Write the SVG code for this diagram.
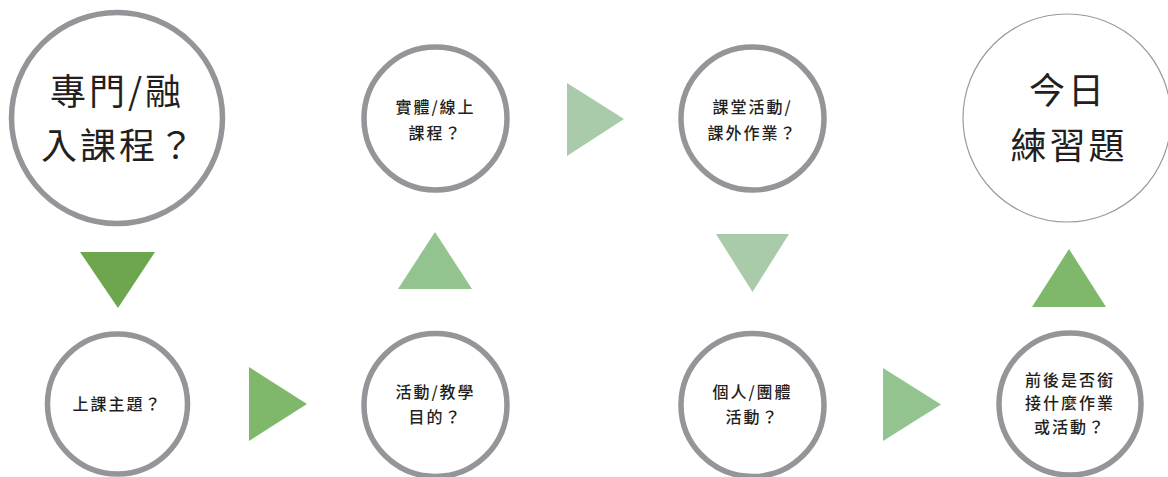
<svg xmlns="http://www.w3.org/2000/svg" width="1168" height="477" viewBox="0 0 1168 477">
<style>
.ring{fill:#fff;stroke:#939598;stroke-width:5.5}
.thin{fill:#fff;stroke:#9a9a9a;stroke-width:1.2}
text{font-family:"Noto Sans CJK TC","Noto Sans CJK SC",sans-serif;fill:#231f20;text-anchor:middle;font-weight:500}
.big{font-size:36px;letter-spacing:3px;font-weight:400}
.sm{font-size:16px;letter-spacing:2px}
</style>
<rect width="1168" height="477" fill="#fff"/>
<g id="connectors">
<polygon points="80,252 155,252 118,308" fill="#6da64d"/>
<polygon points="249,367 307,404 249,441" fill="#7fb86a"/>
<polygon points="398,289 472,289 435,232" fill="#93c48f"/>
<polygon points="567,83 624,119 567,156" fill="#aacba9"/>
<polygon points="716,234 789,234 752.5,292" fill="#aacba9"/>
<polygon points="883,368 941,404.5 883,441" fill="#93c48f"/>
<polygon points="1032,307 1106,307 1069,249" fill="#7fb86a"/>
</g>
<g id="n1"><circle class="ring" cx="117" cy="118" r="105.5"/>
<text class="big" x="117" y="105">專門/融</text><text class="big" x="119" y="159">入課程？</text></g>
<g id="n2"><circle class="ring" cx="117.5" cy="404" r="70"/>
<text class="sm" x="117.5" y="410">上課主題？</text></g>
<g id="n3"><circle class="ring" cx="435.5" cy="405" r="71.5"/>
<text class="sm" x="435.5" y="398">活動/教學</text><text class="sm" x="435.5" y="423">目的？</text></g>
<g id="n4"><circle class="ring" cx="435.5" cy="118.5" r="71.5"/>
<text class="sm" x="435.5" y="113">實體/線上</text><text class="sm" x="435.5" y="139">課程？</text></g>
<g id="n5"><circle class="ring" cx="752.5" cy="118.5" r="71.5"/>
<text class="sm" x="752.5" y="113">課堂活動/</text><text class="sm" x="752.5" y="139">課外作業？</text></g>
<g id="n6"><circle class="ring" cx="752.5" cy="405" r="71.5"/>
<text class="sm" x="752.5" y="398">個人/團體</text><text class="sm" x="752.5" y="423">活動？</text></g>
<g id="n7"><circle class="ring" cx="1070" cy="404" r="71"/>
<text class="sm" x="1070" y="386">前後是否銜</text><text class="sm" x="1070" y="409">接什麼作業</text><text class="sm" x="1070" y="433">或活動？</text></g>
<g id="n8"><circle class="thin" cx="1067" cy="118" r="104"/>
<text class="big" x="1068" y="104">今日</text><text class="big" x="1069" y="159">練習題</text></g>
</svg>
